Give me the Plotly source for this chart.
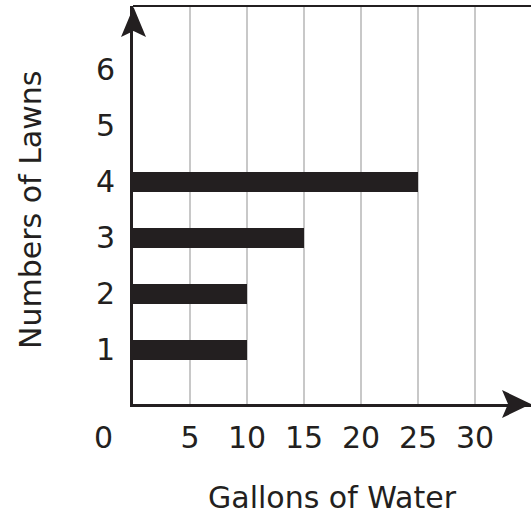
import plotly.graph_objects as go

lawns = [1, 2, 3, 4]
gallons = [10, 10, 15, 25]
x_ticks = [5, 10, 15, 20, 25, 30]
y_ticks = [1, 2, 3, 4, 5, 6]

INK = "#231f20"
FONT = "DejaVu Sans"

fig = go.Figure(go.Bar(
    x=gallons, y=lawns, orientation="h",
    marker=dict(color=INK, line=dict(width=0)),
    width=0.35,
))

W, H = 531, 524
L, R, T, B = 133, 0, 6, 120
pw = W - L - R
ph = H - T - B

def px(xp):
    return (xp - L) / pw

def py(yp):
    return (H - B - yp) / ph

shapes = [
    dict(type="line", xref="paper", yref="paper", x0=0, x1=1, y0=1, y1=1,
         line=dict(color=INK, width=2)),
    # x-axis arrowhead
    dict(type="path", xref="paper", yref="paper",
         path=f"M {px(531)} {py(404)} L {px(502)} {py(390)} L {px(508)} {py(404)} L {px(502)} {py(418)} Z",
         fillcolor=INK, line=dict(width=0)),
    # y-axis arrowhead
    dict(type="path", xref="paper", yref="paper",
         path=f"M {px(133.5)} {py(7)} L {px(121)} {py(37)} L {px(133.5)} {py(31)} L {px(146)} {py(37)} Z",
         fillcolor=INK, line=dict(width=0)),
]

annotations = [
    dict(x=px(103), y=py(437), xref="paper", yref="paper", text="0", showarrow=False,
         xanchor="center", yanchor="middle",
         font=dict(size=30, color=INK, family=FONT)),
    dict(x=0.5, y=py(497), xref="paper", yref="paper", text="Gallons of Water",
         showarrow=False, font=dict(size=30, color=INK, family=FONT),
         xanchor="center", yanchor="middle"),
    dict(x=px(30), y=py(210), xref="paper", yref="paper", text="Numbers of Lawns",
         showarrow=False, textangle=-90, font=dict(size=30, color=INK, family=FONT),
         xanchor="center", yanchor="middle"),
]

fig.update_layout(
    width=W, height=H,
    margin=dict(l=L, r=R, t=T, b=B, pad=0),
    paper_bgcolor="white", plot_bgcolor="white",
    showlegend=False,
    shapes=shapes,
    annotations=annotations,
    font=dict(family=FONT, color=INK),
    bargap=0,
)
fig.update_xaxes(
    range=[0, 34.9], tickvals=x_ticks, ticktext=[str(v) for v in x_ticks],
    showgrid=True, gridcolor="#c8c8c8", gridwidth=2,
    zeroline=False, showline=True, linecolor=INK, linewidth=3,
    ticks="", ticklabelstandoff=5,
    tickfont=dict(size=30, color=INK, family=FONT),
    fixedrange=True,
)
fig.update_yaxes(
    range=[0.035, 7.14], tickvals=y_ticks, ticktext=[str(v) for v in y_ticks],
    showgrid=False, zeroline=False, showline=True, linecolor=INK, linewidth=3,
    ticks="", ticklabelstandoff=9,
    tickfont=dict(size=30, color=INK, family=FONT),
    fixedrange=True,
)

fig.write_html(
    "out.html",
    config=dict(displayModeBar=False),
    post_script="document.body.style.margin='0';document.body.style.padding='0';",
)
